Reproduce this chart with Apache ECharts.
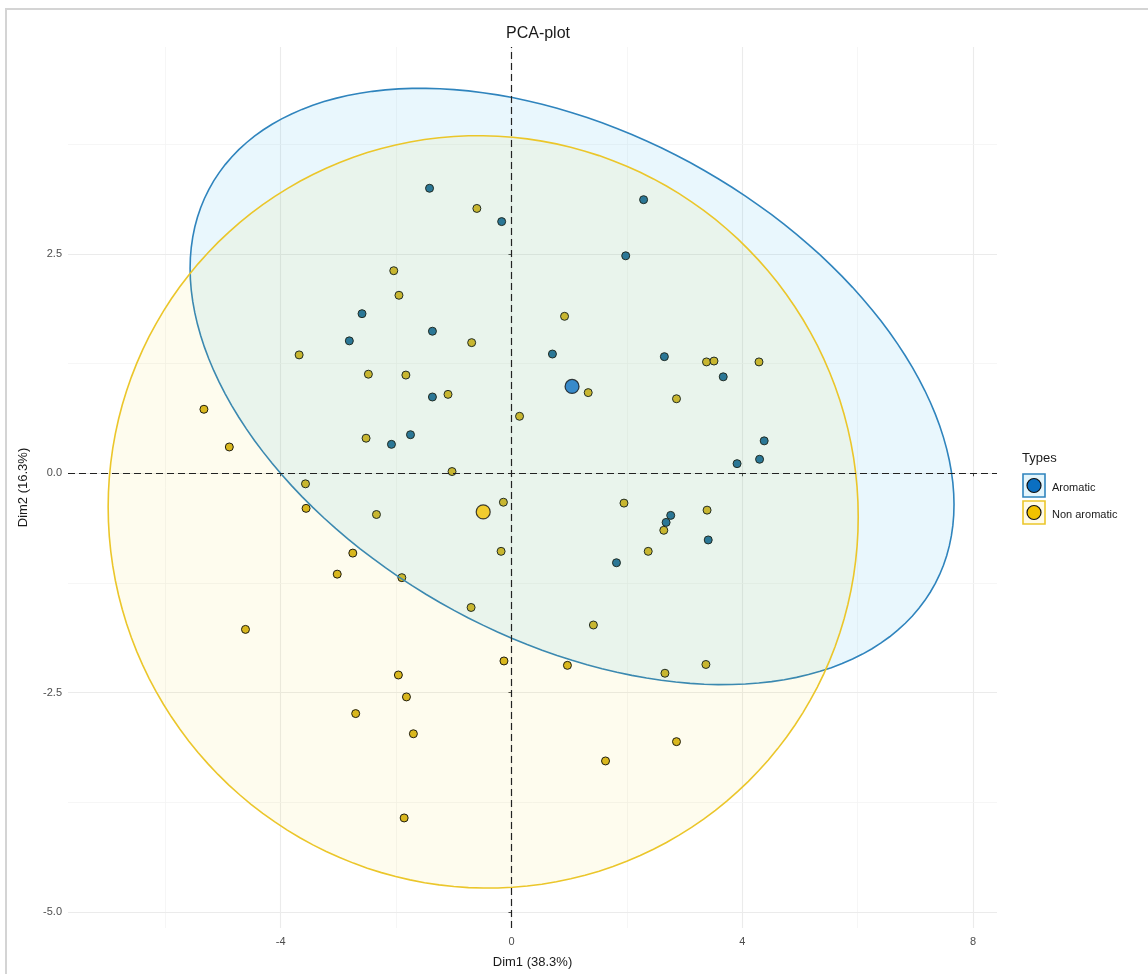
<!DOCTYPE html>
<html>
<head>
<meta charset="utf-8">
<title>PCA-plot</title>
<script src="https://cdn.jsdelivr.net/npm/echarts@6/dist/echarts.min.js"></script>
<style>
  html, body { margin: 0; padding: 0; background: #ffffff; }
  #chart { width: 1148px; height: 974px; }
</style>
</head>
<body>
<div id="chart"></div>
<script>
// Individuals on the first two principal components
const groupNames = ['Aromatic', 'Non aromatic'];
const axisTitles = ['Dim1 (38.3%)', 'Dim2 (16.3%)'];
const plotTitle = 'PCA-plot';
const legendTitle = 'Types';

const aromaticDim1 = [-1.42, -0.17, 2.29, 1.98, -2.59, -2.81, -1.37, 0.71, 2.65, 3.67,
                      -1.37, -1.75, -2.08, 3.91, 4.30, 4.38, 2.76, 2.68, 3.41, 1.82];
const aromaticDim2 = [3.25, 2.87, 3.12, 2.48, 1.82, 1.51, 1.62, 1.36, 1.33, 1.10,
                      0.87, 0.44, 0.33, 0.11, 0.16, 0.37, -0.48, -0.56, -0.76, -1.02];

const nonAromaticDim1 = [-0.60, -2.04, -1.95, -0.69, -3.68, -2.48, -1.83, -1.10, -5.33, -2.52,
                         -4.89, -1.03, -3.57, 0.14, 0.92, 1.33, 2.86, 3.38, 3.51, 4.29,
                         3.39, -3.56, -2.34, -0.14, -0.18, -2.75, -3.02, -1.90, -0.70, -4.61,
                         -0.13, -1.96, 2.37, 1.42, 0.97, 2.66, 3.37, -1.82, -2.70, -1.70,
                         2.86, 1.63, -1.86, 1.95, 2.64];
const nonAromaticDim2 = [3.02, 2.31, 2.03, 1.49, 1.35, 1.13, 1.12, 0.90, 0.73, 0.40,
                         0.30, 0.02, -0.12, 0.65, 1.79, 0.92, 0.85, 1.27, 1.28, 1.27,
                         -0.42, -0.40, -0.47, -0.33, -0.89, -0.91, -1.15, -1.19, -1.53, -1.78,
                         -2.14, -2.30, -0.89, -1.73, -2.19, -2.28, -2.18, -2.55, -2.74, -2.97,
                         -3.06, -3.28, -3.93, -0.34, -0.65];

// group centroids
const meanDim1 = [1.05, -0.49];
const meanDim2 = [0.99, -0.44];

// concentration ellipses: centre, half extents along each axis, correlation
const ellipseDim1 = [1.05, -0.49];
const ellipseDim2 = [0.99, -0.44];
const ellipseHalfDim1 = [6.62, 6.50];
const ellipseHalfDim2 = [3.40, 4.29];
const ellipseCorr = [-0.396, -0.013];

// axis ticks and grid
const xTicks = [-4, 0, 4, 8];
const xMinorTicks = [-6, -2, 2, 6];
const yTicks = [-5, -2.5, 0, 2.5];
const yMinorTicks = [-3.75, -1.25, 1.25, 3.75];
const xRange = [-7.686, 8.415];
const yRange = [-5.185, 4.861];

const FONT = '"Liberation Sans", Arial, Helvetica, sans-serif';
const pointFill = ['#1c6a99', '#d8b620'];
const meanFill = ['#0b6fc2', '#f2c200'];
const ellipseStroke = ['#2f84bd', '#ebc62a'];
const ellipseFill = ['rgba(40,180,235,0.10)', 'rgba(245,210,0,0.065)'];

function zip(a, b) { return a.map((v, i) => [v, b[i]]); }

function ellipseRenderer(g) {
  return function (params, api) {
    const r = ellipseCorr[g];
    const s = Math.sqrt(1 - r * r);
    const pts = [];
    const n = 160;
    for (let k = 0; k <= n; k++) {
      const t = 2 * Math.PI * k / n;
      const x = ellipseDim1[g] + ellipseHalfDim1[g] * Math.cos(t);
      const y = ellipseDim2[g] + ellipseHalfDim2[g] * (r * Math.cos(t) + s * Math.sin(t));
      pts.push(api.coord([x, y]));
    }
    return {
      type: 'polygon',
      shape: { points: pts },
      style: { fill: ellipseFill[g], stroke: ellipseStroke[g], lineWidth: 1.6 }
    };
  };
}

const gridLines = []
  .concat(xTicks.map(v => ({ xAxis: v, lineStyle: { color: '#ebebeb', width: 1.1, type: 'solid' } })))
  .concat(xMinorTicks.map(v => ({ xAxis: v, lineStyle: { color: '#f4f4f4', width: 0.8, type: 'solid' } })))
  .concat(yTicks.map(v => ({ yAxis: v, lineStyle: { color: '#ebebeb', width: 1.1, type: 'solid' } })))
  .concat(yMinorTicks.map(v => ({ yAxis: v, lineStyle: { color: '#f4f4f4', width: 0.8, type: 'solid' } })));

const chart = echarts.init(document.getElementById('chart'), null, { renderer: 'canvas' });

const option = {
  animation: false,
  backgroundColor: '#ffffff',
  title: {
    text: plotTitle,
    left: 533,
    top: 21,
    textAlign: 'center',
    textStyle: { fontFamily: FONT, fontSize: 16, fontWeight: 'normal', color: '#1a1a1a' }
  },
  grid: { left: 68, right: 151, top: 47, bottom: 46 },
  xAxis: {
    type: 'value',
    min: xRange[0],
    max: xRange[1],
    name: axisTitles[0],
    nameLocation: 'middle',
    nameGap: 28,
    nameTextStyle: { fontFamily: FONT, fontSize: 13, color: '#1a1a1a' },
    axisLine: { show: false },
    axisTick: { show: true, customValues: xTicks, length: 3, lineStyle: { color: '#444', width: 1 } },
    axisLabel: { customValues: xTicks, margin: 8, fontFamily: FONT, fontSize: 11, color: '#4d4d4d',
                 formatter: v => String(v) },
    splitLine: { show: false }
  },
  yAxis: {
    type: 'value',
    min: yRange[0],
    max: yRange[1],
    name: axisTitles[1],
    nameLocation: 'middle',
    nameGap: 38,
    nameRotate: 90,
    nameTextStyle: { fontFamily: FONT, fontSize: 13, color: '#1a1a1a' },
    axisLine: { show: false },
    axisTick: { show: true, customValues: yTicks, length: 3, lineStyle: { color: '#444', width: 1 } },
    axisLabel: { customValues: yTicks, margin: 6, fontFamily: FONT, fontSize: 11, color: '#4d4d4d',
                 formatter: v => v.toFixed(1) },
    splitLine: { show: false }
  },
  series: [
    {
      name: 'grid',
      type: 'line',
      data: [],
      z: 0,
      silent: true,
      markLine: { z: 0, silent: true, symbol: 'none', label: { show: false }, animation: false, data: gridLines }
    },
    {
      name: groupNames[0],
      type: 'scatter',
      z: 2,
      data: zip(aromaticDim1, aromaticDim2),
      symbol: 'circle',
      symbolSize: 8,
      itemStyle: { color: pointFill[0], borderColor: '#111', borderWidth: 1, opacity: 1 }
    },
    {
      name: groupNames[1],
      type: 'scatter',
      z: 2,
      data: zip(nonAromaticDim1, nonAromaticDim2),
      symbol: 'circle',
      symbolSize: 8,
      itemStyle: { color: pointFill[1], borderColor: '#111', borderWidth: 1, opacity: 1 }
    },
    {
      name: groupNames[0] + ' ellipse',
      type: 'custom',
      z: 3,
      silent: true,
      renderItem: ellipseRenderer(0),
      data: [[ellipseDim1[0], ellipseDim2[0]]]
    },
    {
      name: groupNames[1] + ' ellipse',
      type: 'custom',
      z: 3,
      silent: true,
      renderItem: ellipseRenderer(1),
      data: [[ellipseDim1[1], ellipseDim2[1]]]
    },
    {
      name: 'axes',
      type: 'line',
      data: [],
      z: 4,
      silent: true,
      markLine: {
        z: 4, silent: true, symbol: 'none', label: { show: false }, animation: false,
        lineStyle: { color: '#222', width: 1.2, type: [7, 4] },
        data: [{ xAxis: 0 }, { yAxis: 0 }]
      }
    },
    {
      name: 'centroids',
      type: 'scatter',
      z: 5,
      data: meanDim1.map((v, i) => ({
        value: [v, meanDim2[i]],
        itemStyle: { color: meanFill[i], borderColor: '#111', borderWidth: 1.2 }
      })),
      symbol: 'circle',
      symbolSize: 14
    }
  ],
  graphic: [
    {
      type: 'rect', silent: true, z: 100,
      shape: { x: 6, y: 9, width: 1170, height: 990 },
      style: { fill: 'none', stroke: '#d4d4d4', lineWidth: 2 }
    },
    {
      type: 'text', z: 100, x: 1022, y: 458,
      style: { text: legendTitle, font: '13px ' + FONT, fill: '#1a1a1a', verticalAlign: 'middle' }
    },
    {
      type: 'rect', z: 100,
      shape: { x: 1023, y: 474, width: 22, height: 23 },
      style: { fill: '#e3f5fc', stroke: ellipseStroke[0], lineWidth: 1.6 }
    },
    {
      type: 'circle', z: 101,
      shape: { cx: 1034, cy: 485.5, r: 7 },
      style: { fill: meanFill[0], stroke: '#111', lineWidth: 1.2 }
    },
    {
      type: 'text', z: 100, x: 1052, y: 488,
      style: { text: groupNames[0], font: '11px ' + FONT, fill: '#1a1a1a', verticalAlign: 'middle' }
    },
    {
      type: 'rect', z: 100,
      shape: { x: 1023, y: 501, width: 22, height: 23 },
      style: { fill: '#fffbe8', stroke: ellipseStroke[1], lineWidth: 1.6 }
    },
    {
      type: 'circle', z: 101,
      shape: { cx: 1034, cy: 512.5, r: 7 },
      style: { fill: meanFill[1], stroke: '#111', lineWidth: 1.2 }
    },
    {
      type: 'text', z: 100, x: 1052, y: 515,
      style: { text: groupNames[1], font: '11px ' + FONT, fill: '#1a1a1a', verticalAlign: 'middle' }
    }
  ]
};

chart.setOption(option);
</script>
</body>
</html>
